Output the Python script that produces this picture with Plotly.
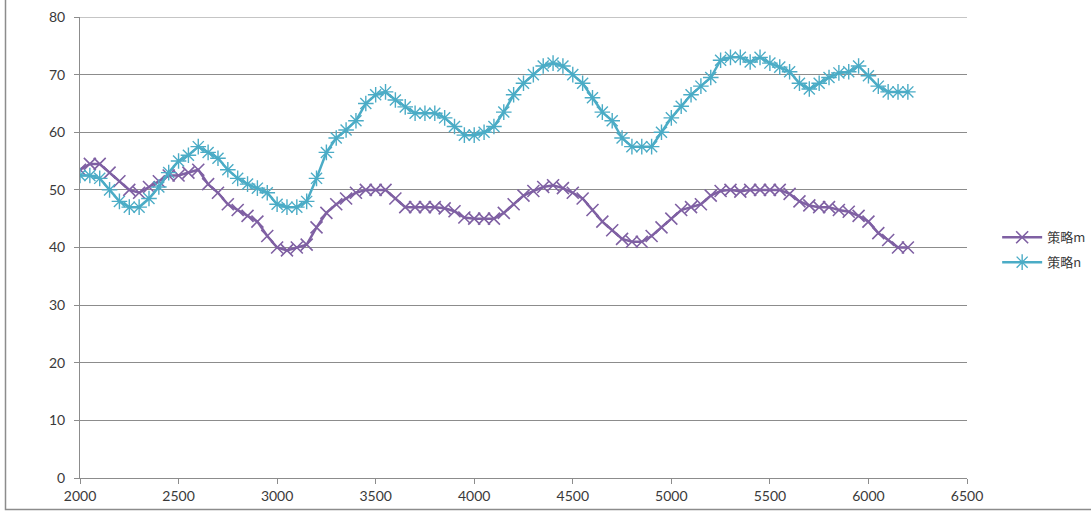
import plotly.graph_objects as go

x_vals = list(range(2000, 6201, 50))

series_m = [53.5, 54.5, 54.5, 53, 51.5, 50, 49.5, 50.5, 51.5, 52.5,
            52.5, 53, 53.5, 51, 49.5, 47.5, 46.5, 45.5, 44.5, 42,
            40, 39.5, 40, 40.5, 43.5, 46, 47.5, 48.5, 49.5, 50,
            50, 50, 48.5, 47, 47, 47, 47, 46.8, 46.3, 45.2,
            45, 45, 45, 46, 47.5, 49, 49.8, 50.5, 50.8, 50.3,
            49.5, 48.5, 46.5, 44.5, 43, 41.5, 41, 41, 42, 43.5,
            45, 46.5, 47, 47.5, 49, 49.8, 50, 49.7, 50, 50,
            50, 50, 49.3, 48, 47.3, 47, 47, 46.5, 46.2, 45.5,
            44.5, 42.5, 41.3, 40, 40]

series_n = [52.5, 52.5, 52, 50, 48, 47, 47, 48.5, 50.5, 53,
            55, 56, 57.5, 56.5, 55.5, 53.5, 52, 51, 50.3, 49.5,
            47.5, 47, 47, 48, 52, 56.5, 59, 60.4, 62, 65,
            66.5, 67, 65.6, 64.4, 63.3, 63.3, 63.3, 62.5, 61, 59.5,
            59.5, 60, 61, 63.5, 66.5, 68.5, 70, 71.5, 72, 71.5,
            70, 68.5, 66, 63.5, 62, 59, 57.5, 57.5, 57.5, 60,
            62.5, 64.5, 66.5, 68, 69.5, 72.5, 73, 73, 72.2, 73,
            72, 71.3, 70.5, 68.5, 67.5, 68.5, 69.5, 70.3, 70.5, 71.5,
            69.8, 68, 67, 67, 67]

name_m = "策略m"
name_n = "策略n"
color_m = "#7f60a3"
color_n = "#4bacc6"
y_max = 80

fig = go.Figure()
fig.add_trace(go.Scatter(
    x=x_vals, y=series_m, name=name_m, mode="lines+markers", legendgroup="m",
    line=dict(color=color_m, width=2.5),
    marker=dict(symbol="x-thin-open", size=12, color=color_m,
                line=dict(color=color_m, width=1.6)),
))
fig.add_trace(go.Scatter(
    x=x_vals, y=series_n, name=name_n, mode="lines+markers", legendgroup="n",
    line=dict(color=color_n, width=2.5),
    marker=dict(symbol="asterisk-open", size=13, color=color_n,
                line=dict(color=color_n, width=1.4)),
))

tick_font = dict(family="Lato, Open Sans, sans-serif", size=14, color="#3a3a3a")

L, R, T, B = 80, 124, 17, 33
fig.update_layout(
    width=1091, height=511,
    margin=dict(l=L, r=R, t=T, b=B, autoexpand=False),
    paper_bgcolor="white", plot_bgcolor="white",
    showlegend=True,
    legend=dict(x=1.034, y=0.495, xanchor="left", yanchor="middle",
                font=dict(family="Noto Sans CJK SC, sans-serif", size=13, color="#3a3a3a"),
                bgcolor="rgba(0,0,0,0)", itemwidth=40, tracegroupgap=5),
    xaxis=dict(range=[2000, 6500], dtick=500, tick0=2000, showgrid=False,
               showline=True, linecolor="#8c8c8c", linewidth=1,
               ticks="outside", ticklen=5, tickcolor="#8c8c8c",
               tickfont=tick_font, zeroline=False, automargin=False),
    yaxis=dict(range=[0, y_max], dtick=10, showgrid=True, gridcolor="#8c8c8c",
               gridwidth=1, showline=True, linecolor="#8c8c8c", linewidth=1,
               ticks="outside", ticklen=5, tickcolor="#8c8c8c",
               tickfont=tick_font, zeroline=False, automargin=False,
               ticklabelstandoff=6),
)

# top gridline at the range edge
fig.add_shape(type="line", xref="paper", yref="y", x0=0, x1=1, y0=y_max, y1=y_max,
              line=dict(color="#8c8c8c", width=1), layer="below")

# chart-area border (Excel style)
W = 1091 - L - R
H = 511 - T - B
px_x = lambda p: (p - L) / W
px_y = lambda p: (511 - B - p) / H
fig.add_shape(type="rect", xref="paper", yref="paper",
              x0=px_x(5.5), x1=px_x(1095), y0=px_y(509.5), y1=px_y(-5),
              line=dict(color="#8c8c8c", width=1.5), layer="below")

fig.write_html("out.html",
               config={"displayModeBar": False},
               post_script="document.body.style.margin='0';document.body.style.overflow='hidden';")
